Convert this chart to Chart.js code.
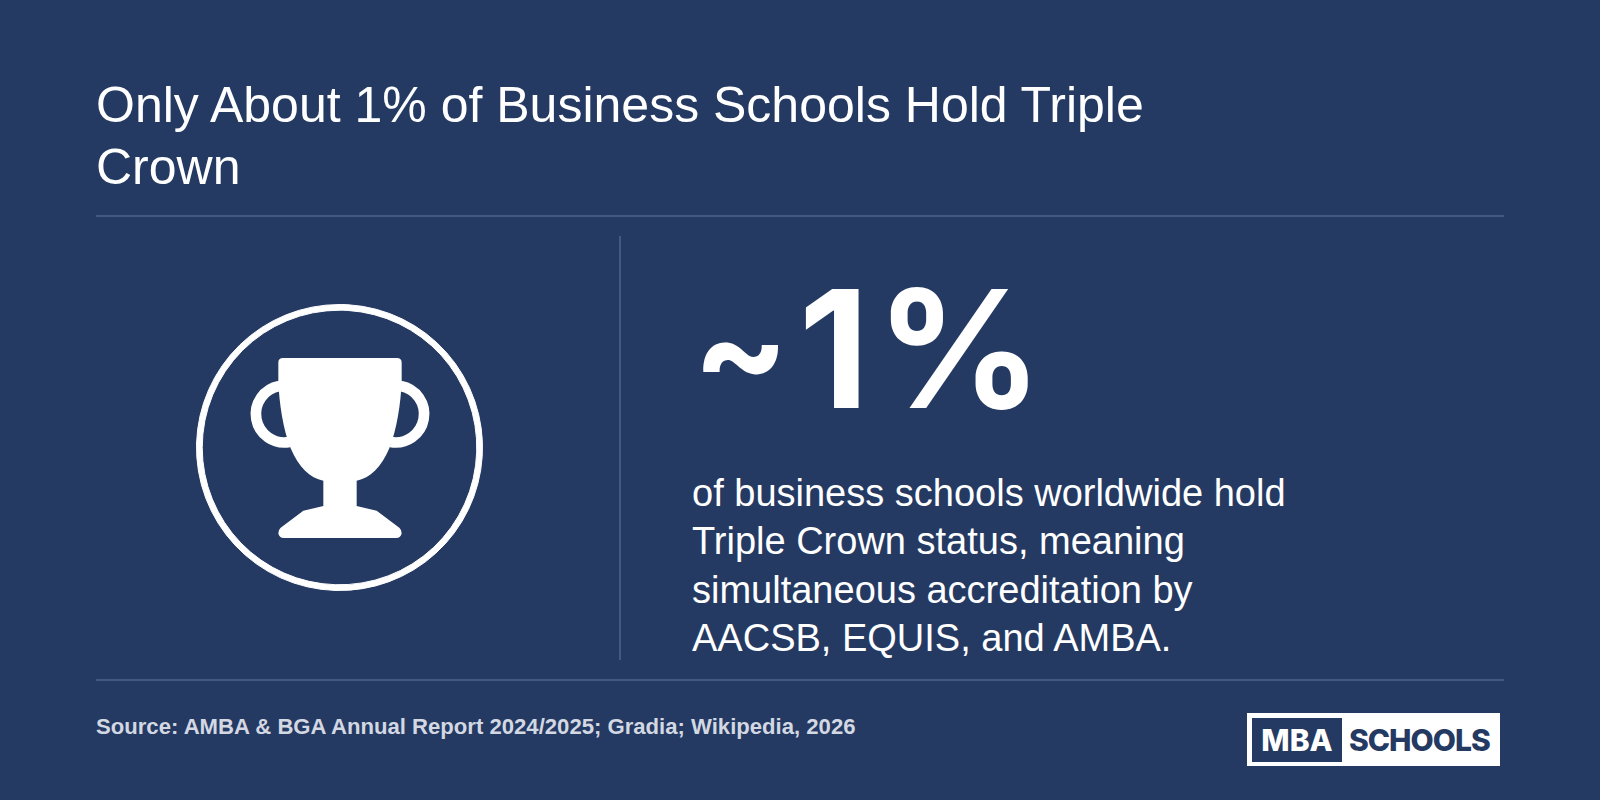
<!DOCTYPE html>
<html>
<head>
<meta charset="utf-8">
<script src="https://cdn.jsdelivr.net/npm/chart.js@4"></script>
<style>
  html, body { margin: 0; padding: 0; background: #243a63; }
  #page { position: relative; width: 1600px; height: 800px; background: #243a63; overflow: hidden;
          font-family: "Liberation Sans", Arial, sans-serif; color: #fff; }
  #page > * { position: absolute; }
  #title { left: 96px; top: 74px; font-size: 50px; line-height: 62px; white-space: pre-line; }
  .rule { background: #45587f; }
  #ringWrap { left: 196px; top: 304px; width: 287px; height: 287px; }
  #trophy { left: 180px; top: 290px; width: 300px; height: 300px; overflow: visible; }
  #bigValue { left: 692.5px; top: 254px; font-family: Inter, sans-serif; font-size: 164px; line-height: 190px; font-weight: 700; white-space: nowrap; }
  #bigPrefix { font-size: 142px; position: relative; top: -8px; letter-spacing: 9.5px; }
  #bigDigit { letter-spacing: 7px; }
  #desc { left: 692px; top: 469px; font-size: 38px; line-height: 48.3px; white-space: pre-line; }
  #source { left: 96px; top: 715px; font-size: 22.12px; line-height: 24px; font-weight: 700; color: #d3d8e2; }
  #logo { left: 1247px; top: 713px; width: 253px; height: 53px; background: #fff; }
  #logoMba { position: absolute; left: 5px; top: 5px; width: 90px; height: 44px; background: #243a63; color: #fff;
             font: 800 30px/44px Inter, sans-serif; text-align: center; letter-spacing: 0; }
  #logoSchools { position: absolute; left: 102px; top: 5px; color: #243a63;
                 font: 800 30px/44px Inter, sans-serif; letter-spacing: -1px; white-space: nowrap; }
</style>
</head>
<body>
<div id="page">
  <div id="title"></div>
  <div class="rule" style="left:96px;top:215px;width:1408px;height:2px"></div>
  <div class="rule" style="left:619px;top:236px;width:2px;height:424px"></div>
  <div class="rule" style="left:96px;top:679px;width:1408px;height:2px"></div>

  <div id="ringWrap"><canvas id="chart" width="287" height="287"></canvas></div>
  <svg id="trophy" viewBox="0 0 900 900">
    <path d="M300 288 A84 84 0 0 0 330 456 M300 288 L296 288" fill="none" stroke="#fff" stroke-width="32" transform="translate(-2 0)"/>
    <path d="M660 288 A84 84 0 0 1 630 456 M660 288 L664 288" fill="none" stroke="#fff" stroke-width="32" transform="translate(2 0)"/>
    <path fill="#fff" d="M295 218 Q295 204 309 204 L651 204 Q665 204 665 218 L665 270
      C663 340 650 420 628 475 C605 530 570 566 530 572 L530 648 L590 662 L658 713
      Q665 719 665 730 Q663 744 648 744 L312 744 Q297 744 295 730 Q295 719 302 713 L370 662
      L430 648 L430 572 C390 566 355 530 332 475 C310 420 297 340 295 270 Z"/>
  </svg>

  <div id="bigValue"><span id="bigPrefix"></span><span id="bigDigit"></span><span id="bigUnit"></span></div>
  <div id="desc"></div>
  <div id="source"></div>
  <div id="logo"><div id="logoMba"></div><div id="logoSchools"></div></div>
</div>
<script>
const titleLines = ['Only About 1% of Business Schools Hold Triple', 'Crown'];
const descLines = [
  'of business schools worldwide hold',
  'Triple Crown status, meaning',
  'simultaneous accreditation by',
  'AACSB, EQUIS, and AMBA.'
];
const sourceText = 'Source: AMBA & BGA Annual Report 2024/2025; Gradia; Wikipedia, 2026';
const logoWords = ['MBA', 'SCHOOLS'];

const shareLabels = ['Triple Crown', 'Other business schools'];
const shareValues = [1, 99];
const headlinePrefix = '~';
const headlineUnit = '%';

document.getElementById('title').textContent = titleLines.join('\n');
document.getElementById('desc').textContent = descLines.join('\n');
document.getElementById('source').textContent = sourceText;
document.getElementById('bigPrefix').textContent = headlinePrefix;
document.getElementById('bigDigit').textContent = shareValues[0];
document.getElementById('bigUnit').textContent = headlineUnit;
document.getElementById('logoMba').textContent = logoWords[0];
document.getElementById('logoSchools').textContent = logoWords[1];

new Chart(document.getElementById('chart'), {
  type: 'doughnut',
  data: {
    labels: shareLabels,
    datasets: [{
      data: shareValues,
      backgroundColor: '#ffffff',
      borderColor: '#ffffff',
      borderWidth: 1,
      borderJoinStyle: 'bevel'
    }]
  },
  options: {
    responsive: false,
    animation: false,
    cutout: '96%',
    plugins: { legend: { display: false }, tooltip: { enabled: false } }
  }
});
</script>
</body>
</html>
